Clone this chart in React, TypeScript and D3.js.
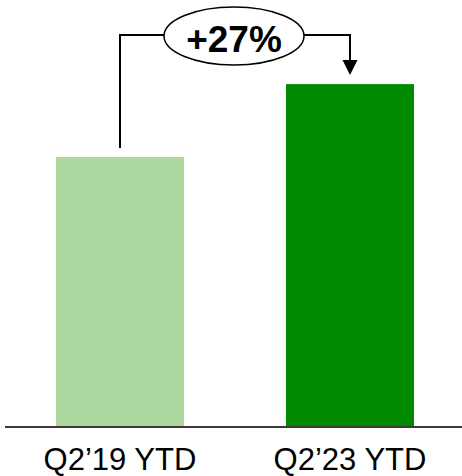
import React from "react";
import * as d3 from "d3";

const categories = ["Q2\u201919 YTD", "Q2\u201923 YTD"];
const values = [100, 127];
const colors = ["#ADD9A0", "#008A00"];
const changeLabel = "+27%";

const W = 462;
const H = 476;

export default function App() {
  const x = d3.scaleBand<string>().domain(categories).range([6, 464]).paddingInner(0.4435).paddingOuter(0.2174);
  const y = d3.scaleLinear().domain([0, 100]).range([427, 157]);
  const bw = x.bandwidth();
  const c0 = (x(categories[0]) as number) + bw / 2;
  const c1 = (x(categories[1]) as number) + bw / 2;
  const top0 = y(values[0]);
  const top1 = y(values[1]);
  const lineY = 35;
  const ex = 234, ey = 36, rx = 70, ry = 29;
  const arrowTip = top1 - 9;
  return (
    <div style={{ position: "fixed", left: 0, top: 0 }}>
      <svg width={W} height={H} style={{ display: "block" }}>
        <rect width={W} height={H} fill="#fff" />
        {categories.map((c, i) => (
          <rect key={c} x={x(c)} y={y(values[i])} width={bw} height={y(0) - y(values[i])} fill={colors[i]} />
        ))}
        <line x1={5} x2={462} y1={y(0)} y2={y(0)} stroke="#3a3a3a" strokeWidth={2} />
        {categories.map((c) => (
          <text key={c} x={(x(c) as number) + bw / 2} y={470} textAnchor="middle" fontFamily="Liberation Sans, Arial, sans-serif" fontSize={31} fill="#000">
            {c}
          </text>
        ))}
        <path d={`M${c0},${top0 - 9} V${lineY} H${ex - rx}`} fill="none" stroke="#000" strokeWidth={2} />
        <path d={`M${ex + rx},${lineY} H${c1} V${arrowTip - 14}`} fill="none" stroke="#000" strokeWidth={2} />
        <path d={`M${c1 - 7.5},${arrowTip - 15} L${c1 + 7.5},${arrowTip - 15} L${c1},${arrowTip} Z`} fill="#000" />
        <ellipse cx={ex} cy={ey} rx={rx} ry={ry} fill="#fff" stroke="#000" strokeWidth={1.5} />
        <text x={ex} y={52} textAnchor="middle" fontFamily="Liberation Sans, Arial, sans-serif" fontWeight="bold" fontSize={37} fill="#000">
          {changeLabel}
        </text>
      </svg>
    </div>
  );
}
